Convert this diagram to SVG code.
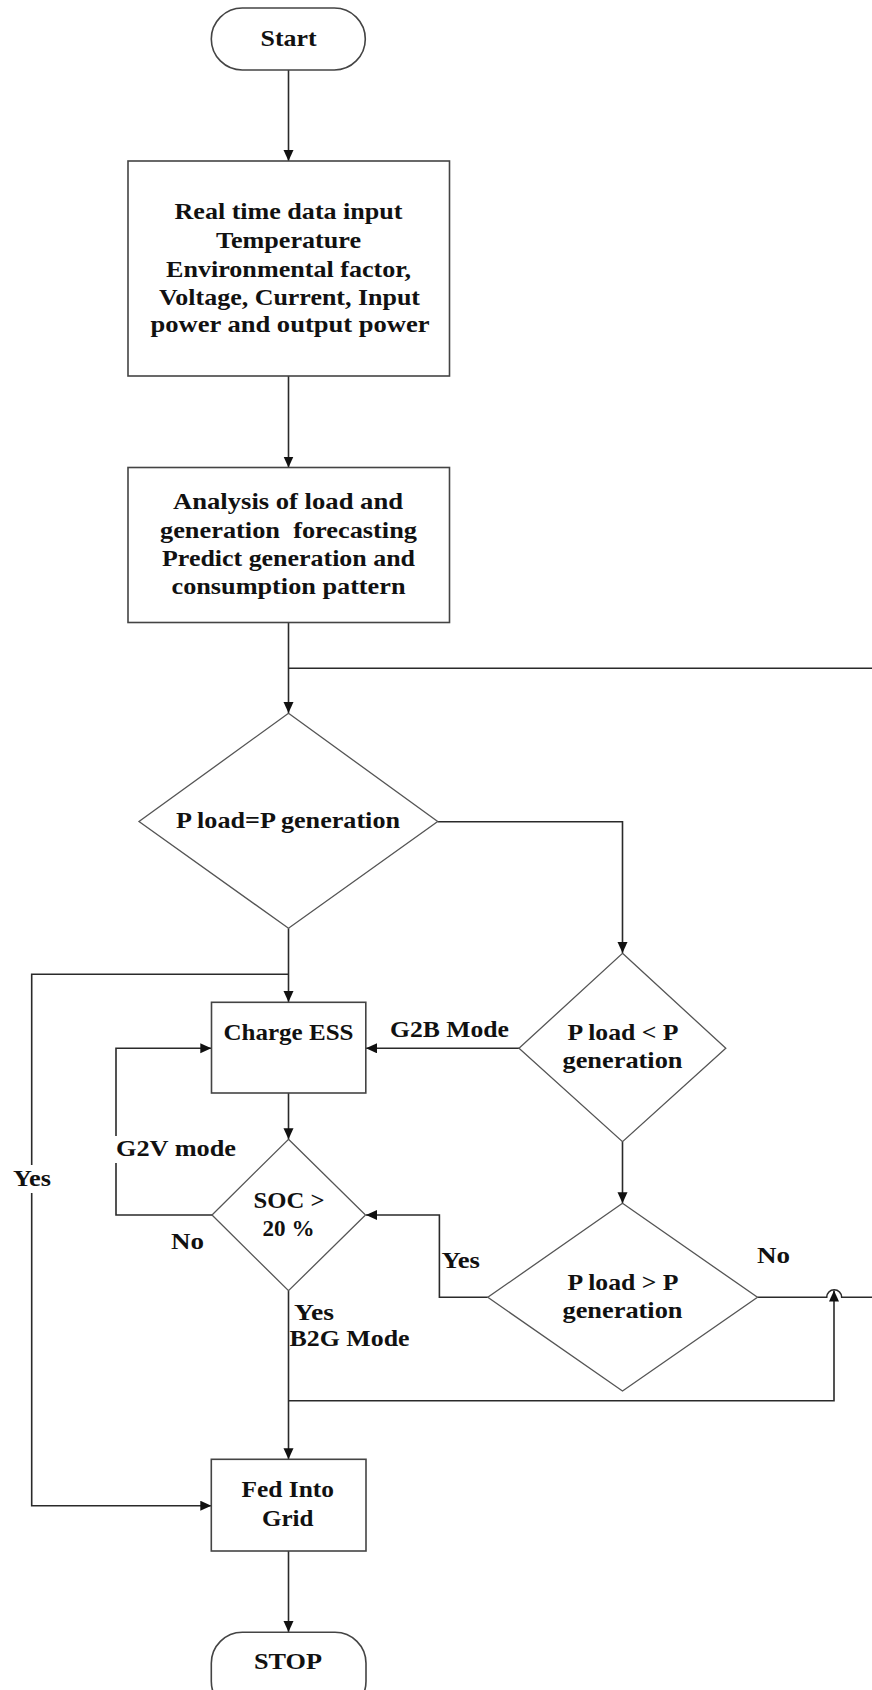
<svg xmlns="http://www.w3.org/2000/svg" width="872" height="1690" viewBox="0 0 872 1690">
<style>
text{font-family:"Liberation Serif","Times New Roman",serif;font-weight:bold;font-size:24px;fill:#111}
.box{fill:#fff;stroke:#444;stroke-width:1.6}
.dia{fill:#fff;stroke:#555;stroke-width:1.3}
.c{fill:none;stroke:#2a2a2a;stroke-width:1.6}
.a{marker-end:url(#arr)}
.bg{fill:#fff}
</style>
<defs>
<marker id="arr" markerUnits="userSpaceOnUse" markerWidth="12" markerHeight="11" refX="11" refY="5" orient="auto">
<path d="M0,0 L11,5 L0,10 z" fill="#111"/>
</marker>
</defs>
<g id="connectors">
<path class="c a" d="M288.5,70 V161"/>
<path class="c a" d="M288.5,376 V467.5"/>
<path class="c a" d="M288.5,622.5 V713"/>
<path class="c" d="M288.5,668.3 H872"/>
<path class="c a" d="M437.7,821.7 H622.5 V953"/>
<path class="c a" d="M288.5,928.3 V1002"/>
<path class="c a" d="M288.5,974.3 H31.7 V1505.7 H211.3"/>
<path class="c a" d="M519,1048.3 H366"/>
<path class="c a" d="M288.5,1093 V1139.3"/>
<path class="c a" d="M212,1215 H116 V1048.3 H211.3"/>
<path class="c a" d="M622.5,1141.7 V1203.3"/>
<path class="c a" d="M487.8,1297.3 H439.4 V1215 H366"/>
<path class="c" d="M757.5,1297.3 H826.7 A7.5,7.5 0 0 1 841.7,1297.3 H872"/>
<path class="c a" d="M288.5,1290.7 V1459.3"/>
<path class="c a" d="M288.5,1400.7 H834 V1290.5"/>
<path class="c a" d="M288.5,1551 V1632"/>
<rect class="bg" x="10" y="1165" width="44" height="28"/>
<rect class="bg" x="112" y="1136" width="128" height="27"/>
<text x="13" y="1185.7" textLength="38" lengthAdjust="spacingAndGlyphs">Yes</text>
<text x="116" y="1156" textLength="120" lengthAdjust="spacingAndGlyphs">G2V mode</text>
<text x="390" y="1036.7" textLength="119" lengthAdjust="spacingAndGlyphs">G2B Mode</text>
<text x="171" y="1249" textLength="33" lengthAdjust="spacingAndGlyphs">No</text>
<text x="441.5" y="1268.3" textLength="38.5" lengthAdjust="spacingAndGlyphs">Yes</text>
<text x="757" y="1263.3" textLength="33" lengthAdjust="spacingAndGlyphs">No</text>
<text x="294" y="1320" textLength="40" lengthAdjust="spacingAndGlyphs">Yes</text>
<text x="289.5" y="1346" textLength="120" lengthAdjust="spacingAndGlyphs">B2G Mode</text>
</g>
<g id="start">
<rect class="box" x="211.3" y="8" width="154" height="62" rx="31" ry="31"/>
<text x="260.5" y="45.7" textLength="56" lengthAdjust="spacingAndGlyphs">Start</text>
</g>
<g id="data-input">
<rect class="box" x="128" y="161" width="321.5" height="215"/>
<text x="174.5" y="219" textLength="228" lengthAdjust="spacingAndGlyphs">Real time data input</text>
<text x="216" y="248" textLength="145" lengthAdjust="spacingAndGlyphs">Temperature</text>
<text x="166" y="277" textLength="245" lengthAdjust="spacingAndGlyphs">Environmental factor,</text>
<text x="159" y="305" textLength="261" lengthAdjust="spacingAndGlyphs">Voltage, Current, Input</text>
<text x="150.5" y="332" textLength="279" lengthAdjust="spacingAndGlyphs">power and output power</text>
</g>
<g id="analysis">
<rect class="box" x="128" y="467.5" width="321.5" height="155"/>
<text x="173" y="509" textLength="230" lengthAdjust="spacingAndGlyphs">Analysis of load and</text>
<text x="160" y="537.7" textLength="257" lengthAdjust="spacingAndGlyphs" xml:space="preserve">generation  forecasting</text>
<text x="162" y="565.7" textLength="253" lengthAdjust="spacingAndGlyphs">Predict generation and</text>
<text x="171.5" y="594.3" textLength="234" lengthAdjust="spacingAndGlyphs">consumption pattern</text>
</g>
<g id="decision-equal">
<polygon class="dia" points="288.5,713.3 437.7,821.5 288.5,928.3 139,821.5"/>
<text x="176" y="828" textLength="224" lengthAdjust="spacingAndGlyphs">P load=P generation</text>
</g>
<g id="decision-less">
<polygon class="dia" points="622.5,953.3 725.8,1048.3 622.5,1141.7 519,1048.3"/>
<text x="567.5" y="1040" textLength="111" lengthAdjust="spacingAndGlyphs">P load &lt; P</text>
<text x="562.5" y="1068.3" textLength="120" lengthAdjust="spacingAndGlyphs">generation</text>
</g>
<g id="charge-ess">
<rect class="box" x="211.5" y="1002.3" width="154.3" height="90.7"/>
<text x="223.5" y="1040" textLength="130" lengthAdjust="spacingAndGlyphs">Charge ESS</text>
</g>
<g id="decision-soc">
<polygon class="dia" points="288.5,1139.3 365.5,1215 288.5,1290.7 212,1215"/>
<text x="253.5" y="1208.3" textLength="71" lengthAdjust="spacingAndGlyphs">SOC &gt;</text>
<text x="262.5" y="1235.7" textLength="52" lengthAdjust="spacingAndGlyphs">20 %</text>
</g>
<g id="decision-greater">
<polygon class="dia" points="622.5,1203.3 757.5,1297.3 622.5,1391 487.8,1297.3"/>
<text x="567.5" y="1290" textLength="111" lengthAdjust="spacingAndGlyphs">P load &gt; P</text>
<text x="562.5" y="1318.3" textLength="120" lengthAdjust="spacingAndGlyphs">generation</text>
</g>
<g id="fed-into-grid">
<rect class="box" x="211.3" y="1459.3" width="154.7" height="91.7"/>
<text x="241.5" y="1497.3" textLength="92.5" lengthAdjust="spacingAndGlyphs">Fed Into</text>
<text x="262" y="1525.7" textLength="51.5" lengthAdjust="spacingAndGlyphs">Grid</text>
</g>
<g id="stop">
<rect class="box" x="211.3" y="1632.3" width="154.7" height="80" rx="31" ry="31"/>
<text x="254" y="1669.3" textLength="68" lengthAdjust="spacingAndGlyphs">STOP</text>
</g>
</svg>
